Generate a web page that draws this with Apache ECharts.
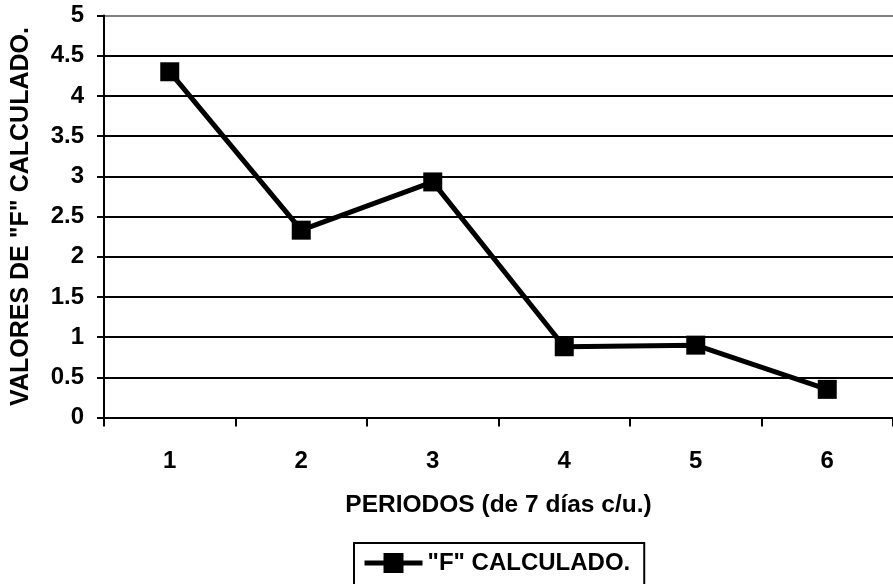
<!DOCTYPE html>
<html>
<head>
<meta charset="utf-8">
<script src="https://cdn.jsdelivr.net/npm/echarts@6/dist/echarts.min.js"></script>
<style>
html,body{margin:0;padding:0;background:#fff;}
#chart{width:893px;height:584px;}
</style>
</head>
<body>
<div id="chart"></div>
<script>
var categories = ['1', '2', '3', '4', '5', '6'];
var fValues = [4.3, 2.33, 2.93, 0.88, 0.9, 0.35];
var seriesName = '"F" CALCULADO.';
var xAxisTitle = 'PERIODOS (de 7 días c/u.)';
var yAxisTitle = 'VALORES DE "F" CALCULADO.';
var yMin = 0, yMax = 5, yStep = 0.5;

var FONT = '"Liberation Sans", Arial, sans-serif';
var gridColors = [];
for (var i = 0; i <= Math.round((yMax - yMin) / yStep); i++) gridColors.push('#000');
gridColors[gridColors.length - 1] = '#808080';

var chart = echarts.init(document.getElementById('chart'), null, {renderer: 'canvas'});
chart.setOption({
  animation: false,
  backgroundColor: '#fff',
  textStyle: {fontFamily: FONT},
  grid: {left: 104, top: 15.5, right: -6, bottom: 166.5, containLabel: false},
  legend: {
    left: 354, top: 543,
    data: [seriesName],
    borderColor: '#000', borderWidth: 2, borderRadius: 0,
    padding: [8, 14, 20, 8],
    itemWidth: 58, itemHeight: 25,
    lineStyle: {width: 5, color: '#000'},
    itemStyle: {color: '#000'},
    textStyle: {fontFamily: FONT, fontWeight: 'bold', fontSize: 24, color: '#000'}
  },
  xAxis: {
    type: 'category',
    data: categories,
    boundaryGap: true,
    name: xAxisTitle,
    nameLocation: 'middle',
    nameGap: 75,
    nameTextStyle: {fontFamily: FONT, fontWeight: 'bold', fontSize: 24.5, color: '#000'},
    axisLine: {lineStyle: {color: '#000', width: 2}},
    axisTick: {show: true, alignWithLabel: false, length: 9, lineStyle: {color: '#000', width: 2}},
    axisLabel: {margin: 32, fontFamily: FONT, fontWeight: 'bold', fontSize: 24, color: '#000'},
    splitLine: {show: false}
  },
  yAxis: {
    type: 'value',
    min: yMin, max: yMax, interval: yStep,
    name: yAxisTitle,
    nameLocation: 'middle',
    nameRotate: 90,
    nameGap: 70,
    nameTextStyle: {fontFamily: FONT, fontWeight: 'bold', fontSize: 25, color: '#000'},
    axisLine: {show: true, lineStyle: {color: '#000', width: 2}},
    axisTick: {show: true, length: 7, lineStyle: {color: '#000', width: 2}},
    axisLabel: {margin: 20, fontFamily: FONT, fontWeight: 'bold', fontSize: 24, color: '#000'},
    splitLine: {show: true, lineStyle: {color: gridColors, width: 2}}
  },
  series: [{
    name: seriesName,
    type: 'line',
    data: fValues,
    symbol: 'rect',
    symbolSize: 19,
    color: '#000',
    itemStyle: {color: '#000'},
    lineStyle: {color: '#000', width: 5}
  }]
});
</script>
</body>
</html>
